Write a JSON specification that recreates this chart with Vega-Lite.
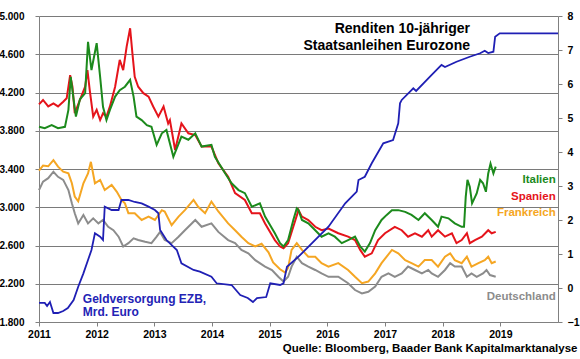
{
  "$schema": "https://vega.github.io/schema/vega-lite/v6.json",
  "width": 519,
  "height": 306,
  "autosize": {"type": "none"},
  "padding": {"left": 39, "top": 16, "right": 22, "bottom": 37},
  "background": "white",
  "config": {
    "font": "Liberation Sans",
    "view": {"stroke": null},
    "axis": {"labelColor": "black", "labelFontWeight": "bold", "tickColor": "#808080", "domainColor": "#808080", "tickSize": 4, "title": null}
  },
  "title": {
    "text": ["Renditen 10-jähriger", "Staatsanleihen Eurozone"],
    "anchor": "end",
    "frame": "group",
    "align": "right",
    "fontSize": 14,
    "fontWeight": "bold",
    "color": "black",
    "lineHeight": 17,
    "dx": -88,
    "offset": -56,
    "baseline": "bottom"
  },
  "datasets": {
    "yields": [
      {"t":2011.00,"v":2.88,"land":"Deutschland"},{"t":2011.07,"v":3.13,"land":"Deutschland"},{"t":2011.16,"v":3.23,"land":"Deutschland"},{"t":2011.25,"v":3.42,"land":"Deutschland"},{"t":2011.33,"v":3.27,"land":"Deutschland"},{"t":2011.42,"v":3.18,"land":"Deutschland"},{"t":2011.51,"v":2.88,"land":"Deutschland"},{"t":2011.57,"v":2.49,"land":"Deutschland"},{"t":2011.62,"v":2.20,"land":"Deutschland"},{"t":2011.68,"v":1.90,"land":"Deutschland"},{"t":2011.77,"v":2.15,"land":"Deutschland"},{"t":2011.85,"v":1.90,"land":"Deutschland"},{"t":2011.94,"v":2.05,"land":"Deutschland"},{"t":2012.03,"v":1.90,"land":"Deutschland"},{"t":2012.11,"v":2.00,"land":"Deutschland"},{"t":2012.20,"v":1.80,"land":"Deutschland"},{"t":2012.29,"v":1.70,"land":"Deutschland"},{"t":2012.38,"v":1.51,"land":"Deutschland"},{"t":2012.46,"v":1.22,"land":"Deutschland"},{"t":2012.55,"v":1.32,"land":"Deutschland"},{"t":2012.64,"v":1.46,"land":"Deutschland"},{"t":2012.72,"v":1.41,"land":"Deutschland"},{"t":2012.84,"v":1.36,"land":"Deutschland"},{"t":2012.95,"v":1.32,"land":"Deutschland"},{"t":2013.04,"v":1.51,"land":"Deutschland"},{"t":2013.10,"v":1.65,"land":"Deutschland"},{"t":2013.18,"v":1.41,"land":"Deutschland"},{"t":2013.30,"v":1.32,"land":"Deutschland"},{"t":2013.42,"v":1.51,"land":"Deutschland"},{"t":2013.53,"v":1.70,"land":"Deutschland"},{"t":2013.71,"v":2.00,"land":"Deutschland"},{"t":2013.82,"v":1.80,"land":"Deutschland"},{"t":2013.99,"v":1.90,"land":"Deutschland"},{"t":2014.11,"v":1.65,"land":"Deutschland"},{"t":2014.28,"v":1.41,"land":"Deutschland"},{"t":2014.40,"v":1.32,"land":"Deutschland"},{"t":2014.51,"v":1.12,"land":"Deutschland"},{"t":2014.63,"v":1.02,"land":"Deutschland"},{"t":2014.75,"v":0.82,"land":"Deutschland"},{"t":2014.92,"v":0.63,"land":"Deutschland"},{"t":2015.04,"v":0.53,"land":"Deutschland"},{"t":2015.15,"v":0.33,"land":"Deutschland"},{"t":2015.24,"v":0.19,"land":"Deutschland"},{"t":2015.32,"v":0.33,"land":"Deutschland"},{"t":2015.38,"v":0.63,"land":"Deutschland"},{"t":2015.47,"v":0.92,"land":"Deutschland"},{"t":2015.56,"v":0.73,"land":"Deutschland"},{"t":2015.67,"v":0.63,"land":"Deutschland"},{"t":2015.79,"v":0.53,"land":"Deutschland"},{"t":2015.90,"v":0.43,"land":"Deutschland"},{"t":2016.02,"v":0.33,"land":"Deutschland"},{"t":2016.19,"v":0.33,"land":"Deutschland"},{"t":2016.36,"v":0.14,"land":"Deutschland"},{"t":2016.48,"v":-0.06,"land":"Deutschland"},{"t":2016.60,"v":-0.16,"land":"Deutschland"},{"t":2016.71,"v":-0.11,"land":"Deutschland"},{"t":2016.83,"v":0.04,"land":"Deutschland"},{"t":2016.94,"v":0.33,"land":"Deutschland"},{"t":2017.06,"v":0.43,"land":"Deutschland"},{"t":2017.17,"v":0.33,"land":"Deutschland"},{"t":2017.29,"v":0.43,"land":"Deutschland"},{"t":2017.40,"v":0.63,"land":"Deutschland"},{"t":2017.52,"v":0.53,"land":"Deutschland"},{"t":2017.64,"v":0.43,"land":"Deutschland"},{"t":2017.75,"v":0.53,"land":"Deutschland"},{"t":2017.81,"v":0.43,"land":"Deutschland"},{"t":2017.92,"v":0.33,"land":"Deutschland"},{"t":2018.04,"v":0.53,"land":"Deutschland"},{"t":2018.13,"v":0.73,"land":"Deutschland"},{"t":2018.21,"v":0.63,"land":"Deutschland"},{"t":2018.33,"v":0.63,"land":"Deutschland"},{"t":2018.42,"v":0.33,"land":"Deutschland"},{"t":2018.50,"v":0.43,"land":"Deutschland"},{"t":2018.59,"v":0.33,"land":"Deutschland"},{"t":2018.70,"v":0.43,"land":"Deutschland"},{"t":2018.76,"v":0.53,"land":"Deutschland"},{"t":2018.82,"v":0.38,"land":"Deutschland"},{"t":2018.92,"v":0.33,"land":"Deutschland"},
      {"t":2011.00,"v":3.45,"land":"Frankreich"},{"t":2011.07,"v":3.60,"land":"Frankreich"},{"t":2011.16,"v":3.58,"land":"Frankreich"},{"t":2011.25,"v":3.76,"land":"Frankreich"},{"t":2011.33,"v":3.57,"land":"Frankreich"},{"t":2011.42,"v":3.42,"land":"Frankreich"},{"t":2011.51,"v":3.37,"land":"Frankreich"},{"t":2011.57,"v":3.08,"land":"Frankreich"},{"t":2011.62,"v":2.69,"land":"Frankreich"},{"t":2011.68,"v":2.55,"land":"Frankreich"},{"t":2011.77,"v":3.08,"land":"Frankreich"},{"t":2011.85,"v":3.37,"land":"Frankreich"},{"t":2011.90,"v":3.71,"land":"Frankreich"},{"t":2011.97,"v":3.08,"land":"Frankreich"},{"t":2012.06,"v":3.18,"land":"Frankreich"},{"t":2012.14,"v":2.88,"land":"Frankreich"},{"t":2012.26,"v":3.03,"land":"Frankreich"},{"t":2012.35,"v":2.83,"land":"Frankreich"},{"t":2012.43,"v":2.59,"land":"Frankreich"},{"t":2012.49,"v":2.49,"land":"Frankreich"},{"t":2012.55,"v":2.20,"land":"Frankreich"},{"t":2012.66,"v":2.20,"land":"Frankreich"},{"t":2012.78,"v":2.00,"land":"Frankreich"},{"t":2012.90,"v":2.10,"land":"Frankreich"},{"t":2013.01,"v":2.00,"land":"Frankreich"},{"t":2013.13,"v":2.29,"land":"Frankreich"},{"t":2013.18,"v":2.25,"land":"Frankreich"},{"t":2013.30,"v":1.85,"land":"Frankreich"},{"t":2013.42,"v":2.10,"land":"Frankreich"},{"t":2013.53,"v":2.29,"land":"Frankreich"},{"t":2013.68,"v":2.59,"land":"Frankreich"},{"t":2013.76,"v":2.39,"land":"Frankreich"},{"t":2013.88,"v":2.20,"land":"Frankreich"},{"t":2013.99,"v":2.54,"land":"Frankreich"},{"t":2014.11,"v":2.25,"land":"Frankreich"},{"t":2014.28,"v":1.90,"land":"Frankreich"},{"t":2014.40,"v":1.70,"land":"Frankreich"},{"t":2014.51,"v":1.51,"land":"Frankreich"},{"t":2014.63,"v":1.32,"land":"Frankreich"},{"t":2014.75,"v":1.22,"land":"Frankreich"},{"t":2014.86,"v":1.30,"land":"Frankreich"},{"t":2014.98,"v":1.05,"land":"Frankreich"},{"t":2015.06,"v":0.75,"land":"Frankreich"},{"t":2015.18,"v":0.55,"land":"Frankreich"},{"t":2015.27,"v":0.45,"land":"Frankreich"},{"t":2015.32,"v":0.60,"land":"Frankreich"},{"t":2015.38,"v":1.12,"land":"Frankreich"},{"t":2015.47,"v":1.32,"land":"Frankreich"},{"t":2015.56,"v":1.12,"land":"Frankreich"},{"t":2015.67,"v":0.92,"land":"Frankreich"},{"t":2015.79,"v":0.92,"land":"Frankreich"},{"t":2015.90,"v":0.73,"land":"Frankreich"},{"t":2016.02,"v":0.63,"land":"Frankreich"},{"t":2016.19,"v":0.73,"land":"Frankreich"},{"t":2016.36,"v":0.53,"land":"Frankreich"},{"t":2016.48,"v":0.33,"land":"Frankreich"},{"t":2016.60,"v":0.14,"land":"Frankreich"},{"t":2016.71,"v":0.19,"land":"Frankreich"},{"t":2016.83,"v":0.43,"land":"Frankreich"},{"t":2016.94,"v":0.73,"land":"Frankreich"},{"t":2017.12,"v":1.12,"land":"Frankreich"},{"t":2017.23,"v":1.02,"land":"Frankreich"},{"t":2017.35,"v":0.82,"land":"Frankreich"},{"t":2017.46,"v":0.73,"land":"Frankreich"},{"t":2017.58,"v":0.63,"land":"Frankreich"},{"t":2017.69,"v":0.82,"land":"Frankreich"},{"t":2017.81,"v":0.82,"land":"Frankreich"},{"t":2017.92,"v":0.63,"land":"Frankreich"},{"t":2018.04,"v":0.92,"land":"Frankreich"},{"t":2018.13,"v":1.02,"land":"Frankreich"},{"t":2018.21,"v":0.82,"land":"Frankreich"},{"t":2018.33,"v":0.73,"land":"Frankreich"},{"t":2018.42,"v":0.92,"land":"Frankreich"},{"t":2018.50,"v":0.63,"land":"Frankreich"},{"t":2018.62,"v":0.73,"land":"Frankreich"},{"t":2018.73,"v":0.82,"land":"Frankreich"},{"t":2018.79,"v":0.92,"land":"Frankreich"},{"t":2018.85,"v":0.73,"land":"Frankreich"},{"t":2018.92,"v":0.78,"land":"Frankreich"},
      {"t":2011.00,"v":5.40,"land":"Spanien"},{"t":2011.07,"v":5.53,"land":"Spanien"},{"t":2011.16,"v":5.34,"land":"Spanien"},{"t":2011.25,"v":5.43,"land":"Spanien"},{"t":2011.33,"v":5.34,"land":"Spanien"},{"t":2011.42,"v":5.48,"land":"Spanien"},{"t":2011.48,"v":5.58,"land":"Spanien"},{"t":2011.54,"v":6.26,"land":"Spanien"},{"t":2011.58,"v":5.92,"land":"Spanien"},{"t":2011.62,"v":5.14,"land":"Spanien"},{"t":2011.71,"v":5.53,"land":"Spanien"},{"t":2011.80,"v":5.92,"land":"Spanien"},{"t":2011.84,"v":6.41,"land":"Spanien"},{"t":2011.88,"v":5.82,"land":"Spanien"},{"t":2011.94,"v":5.04,"land":"Spanien"},{"t":2012.00,"v":5.24,"land":"Spanien"},{"t":2012.06,"v":4.94,"land":"Spanien"},{"t":2012.11,"v":5.14,"land":"Spanien"},{"t":2012.17,"v":5.04,"land":"Spanien"},{"t":2012.23,"v":5.34,"land":"Spanien"},{"t":2012.32,"v":5.92,"land":"Spanien"},{"t":2012.40,"v":6.71,"land":"Spanien"},{"t":2012.46,"v":6.41,"land":"Spanien"},{"t":2012.52,"v":7.10,"land":"Spanien"},{"t":2012.58,"v":7.64,"land":"Spanien"},{"t":2012.62,"v":6.90,"land":"Spanien"},{"t":2012.66,"v":6.21,"land":"Spanien"},{"t":2012.72,"v":5.92,"land":"Spanien"},{"t":2012.81,"v":5.73,"land":"Spanien"},{"t":2012.90,"v":5.63,"land":"Spanien"},{"t":2012.98,"v":5.34,"land":"Spanien"},{"t":2013.07,"v":5.04,"land":"Spanien"},{"t":2013.16,"v":5.34,"land":"Spanien"},{"t":2013.24,"v":4.84,"land":"Spanien"},{"t":2013.27,"v":4.94,"land":"Spanien"},{"t":2013.36,"v":4.06,"land":"Spanien"},{"t":2013.47,"v":4.84,"land":"Spanien"},{"t":2013.59,"v":4.55,"land":"Spanien"},{"t":2013.71,"v":4.50,"land":"Spanien"},{"t":2013.82,"v":4.16,"land":"Spanien"},{"t":2013.99,"v":4.16,"land":"Spanien"},{"t":2014.11,"v":3.67,"land":"Spanien"},{"t":2014.28,"v":3.27,"land":"Spanien"},{"t":2014.40,"v":2.79,"land":"Spanien"},{"t":2014.57,"v":2.59,"land":"Spanien"},{"t":2014.69,"v":2.20,"land":"Spanien"},{"t":2014.83,"v":2.20,"land":"Spanien"},{"t":2014.92,"v":1.90,"land":"Spanien"},{"t":2015.09,"v":1.41,"land":"Spanien"},{"t":2015.18,"v":1.22,"land":"Spanien"},{"t":2015.24,"v":1.17,"land":"Spanien"},{"t":2015.32,"v":1.32,"land":"Spanien"},{"t":2015.41,"v":1.80,"land":"Spanien"},{"t":2015.50,"v":2.29,"land":"Spanien"},{"t":2015.56,"v":2.10,"land":"Spanien"},{"t":2015.67,"v":2.00,"land":"Spanien"},{"t":2015.79,"v":1.80,"land":"Spanien"},{"t":2015.90,"v":1.70,"land":"Spanien"},{"t":2016.02,"v":1.75,"land":"Spanien"},{"t":2016.19,"v":1.61,"land":"Spanien"},{"t":2016.36,"v":1.51,"land":"Spanien"},{"t":2016.48,"v":1.41,"land":"Spanien"},{"t":2016.57,"v":1.12,"land":"Spanien"},{"t":2016.65,"v":0.92,"land":"Spanien"},{"t":2016.77,"v":1.02,"land":"Spanien"},{"t":2016.88,"v":1.41,"land":"Spanien"},{"t":2017.00,"v":1.61,"land":"Spanien"},{"t":2017.17,"v":1.80,"land":"Spanien"},{"t":2017.29,"v":1.70,"land":"Spanien"},{"t":2017.40,"v":1.51,"land":"Spanien"},{"t":2017.52,"v":1.61,"land":"Spanien"},{"t":2017.64,"v":1.51,"land":"Spanien"},{"t":2017.75,"v":1.70,"land":"Spanien"},{"t":2017.81,"v":1.51,"land":"Spanien"},{"t":2017.92,"v":1.70,"land":"Spanien"},{"t":2018.04,"v":1.51,"land":"Spanien"},{"t":2018.16,"v":1.61,"land":"Spanien"},{"t":2018.24,"v":1.32,"land":"Spanien"},{"t":2018.33,"v":1.41,"land":"Spanien"},{"t":2018.42,"v":1.61,"land":"Spanien"},{"t":2018.47,"v":1.32,"land":"Spanien"},{"t":2018.56,"v":1.41,"land":"Spanien"},{"t":2018.68,"v":1.51,"land":"Spanien"},{"t":2018.79,"v":1.70,"land":"Spanien"},{"t":2018.85,"v":1.61,"land":"Spanien"},{"t":2018.92,"v":1.65,"land":"Spanien"},
      {"t":2011.00,"v":4.74,"land":"Italien"},{"t":2011.10,"v":4.70,"land":"Italien"},{"t":2011.22,"v":4.79,"land":"Italien"},{"t":2011.33,"v":4.70,"land":"Italien"},{"t":2011.45,"v":4.74,"land":"Italien"},{"t":2011.51,"v":5.24,"land":"Italien"},{"t":2011.55,"v":6.21,"land":"Italien"},{"t":2011.60,"v":5.55,"land":"Italien"},{"t":2011.64,"v":5.04,"land":"Italien"},{"t":2011.71,"v":5.55,"land":"Italien"},{"t":2011.80,"v":5.73,"land":"Italien"},{"t":2011.85,"v":7.24,"land":"Italien"},{"t":2011.91,"v":6.41,"land":"Italien"},{"t":2012.00,"v":7.20,"land":"Italien"},{"t":2012.06,"v":6.21,"land":"Italien"},{"t":2012.11,"v":5.33,"land":"Italien"},{"t":2012.17,"v":4.94,"land":"Italien"},{"t":2012.23,"v":5.24,"land":"Italien"},{"t":2012.32,"v":5.63,"land":"Italien"},{"t":2012.40,"v":5.82,"land":"Italien"},{"t":2012.49,"v":5.92,"land":"Italien"},{"t":2012.58,"v":6.12,"land":"Italien"},{"t":2012.64,"v":5.63,"land":"Italien"},{"t":2012.69,"v":5.04,"land":"Italien"},{"t":2012.78,"v":4.94,"land":"Italien"},{"t":2012.87,"v":4.79,"land":"Italien"},{"t":2012.95,"v":4.74,"land":"Italien"},{"t":2013.04,"v":4.21,"land":"Italien"},{"t":2013.13,"v":4.55,"land":"Italien"},{"t":2013.21,"v":4.65,"land":"Italien"},{"t":2013.33,"v":3.86,"land":"Italien"},{"t":2013.47,"v":4.45,"land":"Italien"},{"t":2013.59,"v":4.36,"land":"Italien"},{"t":2013.71,"v":4.55,"land":"Italien"},{"t":2013.82,"v":4.16,"land":"Italien"},{"t":2013.99,"v":4.21,"land":"Italien"},{"t":2014.05,"v":3.86,"land":"Italien"},{"t":2014.23,"v":3.37,"land":"Italien"},{"t":2014.34,"v":3.08,"land":"Italien"},{"t":2014.46,"v":2.88,"land":"Italien"},{"t":2014.57,"v":2.79,"land":"Italien"},{"t":2014.69,"v":2.39,"land":"Italien"},{"t":2014.83,"v":2.49,"land":"Italien"},{"t":2014.92,"v":2.10,"land":"Italien"},{"t":2015.09,"v":1.61,"land":"Italien"},{"t":2015.18,"v":1.32,"land":"Italien"},{"t":2015.24,"v":1.22,"land":"Italien"},{"t":2015.32,"v":1.41,"land":"Italien"},{"t":2015.41,"v":2.00,"land":"Italien"},{"t":2015.47,"v":2.34,"land":"Italien"},{"t":2015.50,"v":2.29,"land":"Italien"},{"t":2015.56,"v":2.00,"land":"Italien"},{"t":2015.67,"v":1.90,"land":"Italien"},{"t":2015.79,"v":1.70,"land":"Italien"},{"t":2015.90,"v":1.51,"land":"Italien"},{"t":2016.02,"v":1.61,"land":"Italien"},{"t":2016.13,"v":1.51,"land":"Italien"},{"t":2016.25,"v":1.32,"land":"Italien"},{"t":2016.36,"v":1.41,"land":"Italien"},{"t":2016.48,"v":1.51,"land":"Italien"},{"t":2016.57,"v":1.22,"land":"Italien"},{"t":2016.65,"v":1.07,"land":"Italien"},{"t":2016.74,"v":1.32,"land":"Italien"},{"t":2016.83,"v":1.70,"land":"Italien"},{"t":2016.94,"v":2.00,"land":"Italien"},{"t":2017.03,"v":2.15,"land":"Italien"},{"t":2017.12,"v":2.29,"land":"Italien"},{"t":2017.23,"v":2.29,"land":"Italien"},{"t":2017.35,"v":2.24,"land":"Italien"},{"t":2017.46,"v":2.15,"land":"Italien"},{"t":2017.58,"v":2.00,"land":"Italien"},{"t":2017.69,"v":2.20,"land":"Italien"},{"t":2017.81,"v":2.00,"land":"Italien"},{"t":2017.92,"v":1.80,"land":"Italien"},{"t":2017.98,"v":2.10,"land":"Italien"},{"t":2018.10,"v":2.05,"land":"Italien"},{"t":2018.21,"v":1.90,"land":"Italien"},{"t":2018.33,"v":1.80,"land":"Italien"},{"t":2018.37,"v":1.80,"land":"Italien"},{"t":2018.40,"v":2.68,"land":"Italien"},{"t":2018.43,"v":3.18,"land":"Italien"},{"t":2018.47,"v":2.98,"land":"Italien"},{"t":2018.51,"v":2.49,"land":"Italien"},{"t":2018.59,"v":2.78,"land":"Italien"},{"t":2018.65,"v":3.18,"land":"Italien"},{"t":2018.70,"v":3.08,"land":"Italien"},{"t":2018.75,"v":2.83,"land":"Italien"},{"t":2018.79,"v":3.37,"land":"Italien"},{"t":2018.83,"v":3.66,"land":"Italien"},{"t":2018.88,"v":3.37,"land":"Italien"},{"t":2018.92,"v":3.57,"land":"Italien"}
    ],
    "geld": [
      {"t":2011.00,"g":1999},{"t":2011.10,"g":1999},{"t":2011.14,"g":1967},{"t":2011.19,"g":2009},{"t":2011.25,"g":1894},{"t":2011.33,"g":1894},{"t":2011.42,"g":1915},{"t":2011.50,"g":1946},{"t":2011.60,"g":2030},{"t":2011.68,"g":2169},{"t":2011.77,"g":2309},{"t":2011.85,"g":2448},{"t":2011.91,"g":2553},{"t":2011.97,"g":2728},{"t":2012.06,"g":2692},{"t":2012.11,"g":2657},{"t":2012.14,"g":3006},{"t":2012.26,"g":2971},{"t":2012.38,"g":2971},{"t":2012.43,"g":3076},{"t":2012.55,"g":3076},{"t":2012.66,"g":3055},{"t":2012.78,"g":3041},{"t":2012.90,"g":3006},{"t":2013.01,"g":2971},{"t":2013.07,"g":2937},{"t":2013.10,"g":2762},{"t":2013.21,"g":2657},{"t":2013.39,"g":2553},{"t":2013.47,"g":2414},{"t":2013.68,"g":2344},{"t":2013.79,"g":2326},{"t":2013.99,"g":2274},{"t":2014.08,"g":2205},{"t":2014.34,"g":2187},{"t":2014.49,"g":2082},{"t":2014.62,"g":2051},{"t":2014.71,"g":2009},{"t":2014.78,"g":2051},{"t":2014.94,"g":2061},{"t":2015.01,"g":2205},{"t":2015.18,"g":2187},{"t":2015.24,"g":2205},{"t":2015.30,"g":2378},{"t":2015.50,"g":2483},{"t":2015.73,"g":2623},{"t":2016.02,"g":2797},{"t":2016.31,"g":3041},{"t":2016.51,"g":3163},{"t":2016.54,"g":3285},{"t":2016.65,"g":3319},{"t":2016.77,"g":3460},{"t":2016.97,"g":3669},{"t":2017.14,"g":3703},{"t":2017.23,"g":3878},{"t":2017.26,"g":4087},{"t":2017.29,"g":4122},{"t":2017.46,"g":4226},{"t":2017.49,"g":4244},{"t":2017.54,"g":4216},{"t":2017.78,"g":4365},{"t":2017.98,"g":4488},{"t":2018.04,"g":4467},{"t":2018.24,"g":4522},{"t":2018.47,"g":4574},{"t":2018.65,"g":4610},{"t":2018.73,"g":4637},{"t":2018.79,"g":4613},{"t":2018.88,"g":4627},{"t":2018.91,"g":4784},{"t":2018.99,"g":4819},{"t":2020.00,"g":4819}
    ],
    "yieldLabels": [
      {"t":2019.96,"v":3.18,"label":"Italien","land":"Italien"},
      {"t":2019.96,"v":2.67,"label":"Spanien","land":"Spanien"},
      {"t":2019.96,"v":2.20,"label":"Frankreich","land":"Frankreich"},
      {"t":2019.96,"v":-0.26,"label":"Deutschland","land":"Deutschland"}
    ],
    "geldLabels": [
      {"t":2011.76,"g":2040,"label":"Geldversorgung EZB,"},
      {"t":2011.76,"g":1901,"label":"Mrd. Euro"}
    ]
  },
  "layer": [
    {
      "data": {"name": "yields"},
      "mark": {"type": "line", "strokeWidth": 2},
      "encoding": {
        "x": {"field": "t", "type": "quantitative", "scale": {"domain": [2011, 2020], "nice": false, "zero": false},
          "axis": {"values": [2011,2012,2013,2014,2015,2016,2017,2018,2019], "format": "d", "labelFontSize": 10.5, "labelPadding": 3, "labelFlush": false, "grid": false,
            "title": "Quelle: Bloomberg, Baader Bank Kapitalmarktanalyse", "titleFontSize": 11.5, "titleFontWeight": "bold", "titleColor": "black", "titleAnchor": "end", "titleAlign": "right", "titleX": 538, "titleY": 26, "titleBaseline": "middle"}},
        "y": {"field": "v", "type": "quantitative", "scale": {"domain": [-1, 8], "nice": false, "zero": false},
          "axis": {"orient": "right", "values": [-1,0,1,2,3,4,5,6,7,8], "labelFontSize": 10.5, "labelPadding": 5, "grid": false}},
        "color": {"field": "land", "type": "nominal", "legend": null,
          "scale": {"domain": ["Deutschland", "Frankreich", "Spanien", "Italien"], "range": ["#8c8c8c", "#f5a623", "#e5141b", "#1c8a1c"]}}
      }
    },
    {
      "data": {"name": "yieldLabels"},
      "mark": {"type": "text", "align": "right", "baseline": "middle", "fontSize": 11.5, "fontWeight": "bold"},
      "encoding": {
        "x": {"field": "t", "type": "quantitative"},
        "y": {"field": "v", "type": "quantitative", "scale": {"domain": [-1, 8], "nice": false, "zero": false}, "axis": null},
        "text": {"field": "label"},
        "color": {"field": "land", "type": "nominal", "legend": null}
      }
    },
    {
      "data": {"name": "geld"},
      "mark": {"type": "line", "strokeWidth": 1.8, "color": "#1f1fb4"},
      "encoding": {
        "x": {"field": "t", "type": "quantitative"},
        "y": {"field": "g", "type": "quantitative", "scale": {"domain": [1800, 5000], "nice": false, "zero": false},
          "axis": {"orient": "left", "values": [1800,2200,2600,3000,3400,3800,4200,4600,5000], "labelExpr": "replace(format(datum.value, ','), ',', '.')", "labelFontSize": 10, "labelPadding": 11, "grid": true, "gridColor": "#7a7a7a", "gridWidth": 1}}
      }
    },
    {
      "data": {"name": "geldLabels"},
      "mark": {"type": "text", "align": "left", "baseline": "middle", "fontSize": 12, "fontWeight": "bold", "color": "#2323b5"},
      "encoding": {
        "x": {"field": "t", "type": "quantitative"},
        "y": {"field": "g", "type": "quantitative", "scale": {"domain": [1800, 5000], "nice": false, "zero": false}, "axis": null},
        "text": {"field": "label"}
      }
    }
  ],
  "resolve": {"scale": {"y": "independent"}}
}
